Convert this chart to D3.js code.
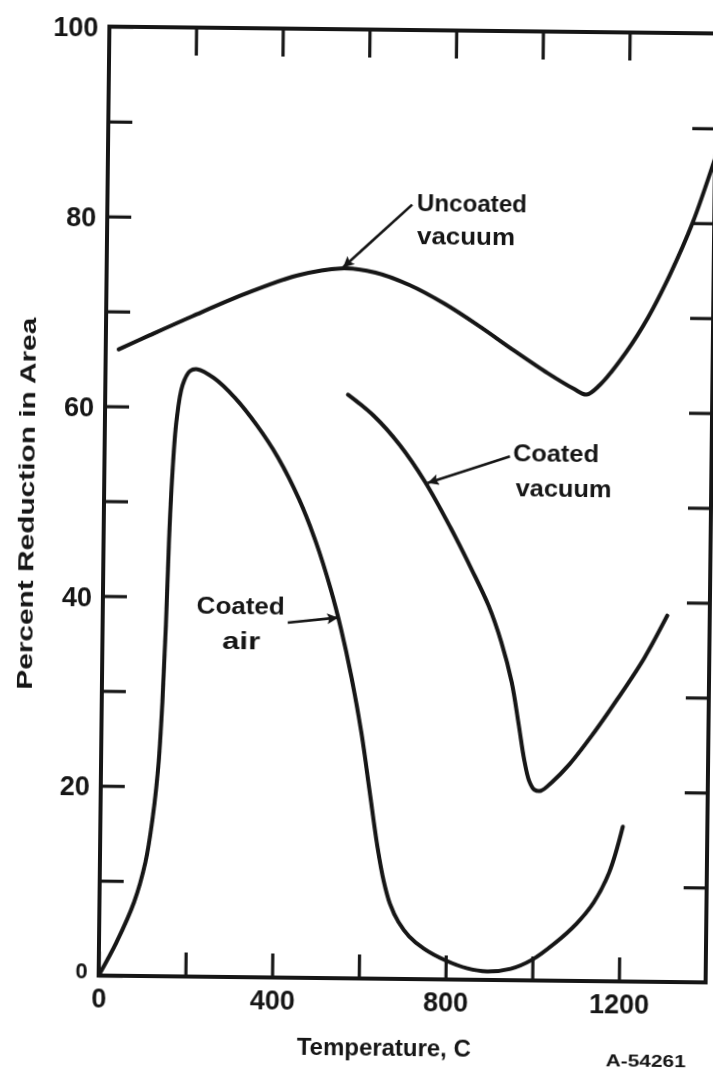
<!DOCTYPE html>
<html>
<head>
<meta charset="utf-8">
<script src="https://cdn.jsdelivr.net/npm/d3@7/dist/d3.min.js"></script>
<style>
  html, body { margin: 0; padding: 0; background: #fff; }
  svg { display: block; }
  text { font-family: "Liberation Sans", Arial, sans-serif; font-weight: bold; fill: #141414; }
</style>
</head>
<body>
<script>
// Temperature (C) and percent reduction in area for each test condition
const uncoatedVacuumT = [30, 100, 200, 320, 440, 540, 620, 700, 780, 860, 940, 1020, 1080, 1110, 1140, 1200, 1250, 1300, 1350, 1400];
const uncoatedVacuumV = [66, 67.5, 69.6, 72, 74, 74.8, 74.4, 73.1, 71.2, 68.9, 66.4, 64, 62.4, 61.8, 62.8, 66.3, 70, 74.6, 80, 86.8];

const coatedAirT = [0, 40, 80, 105, 120, 132, 140, 146, 151, 157, 165, 178, 195, 212, 250, 300, 350, 400, 450, 490, 525, 550, 575, 600, 620, 640, 655, 670, 690, 715, 750, 800, 850, 895, 950, 1000, 1050, 1100, 1140, 1175, 1205];
const coatedAirV = [0, 3.5, 7.8, 12, 16.5, 22, 29, 37, 46, 53, 58.5, 62.3, 63.8, 64, 63.1, 61.0, 58.2, 54.8, 50.4, 45.9, 41, 36.8, 31.8, 25.8, 19.8, 13.8, 10.3, 7.9, 6.0, 4.5, 3.2, 2.0, 1.2, 0.9, 1.2, 2.2, 3.9, 6.0, 8.3, 11.5, 16.3];

const coatedVacuumT = [560, 620, 680, 740, 800, 850, 890, 920, 945, 962, 976, 988, 1000, 1015, 1040, 1080, 1130, 1190, 1250, 1302];
const coatedVacuumV = [61.5, 59.3, 56.3, 52.4, 47.6, 43.2, 39.4, 35.6, 31.4, 27, 23.2, 21, 20.1, 20, 20.9, 22.8, 25.8, 29.8, 34.1, 38.6];

// Axis ticks and labels
const xDomain = [0, 1400];
const yDomain = [0, 100];
const xTickValues = [0, 200, 400, 600, 800, 1000, 1200];
const xLabelValues = [0, 400, 800, 1200];
const yTickValues = [0, 10, 20, 30, 40, 50, 60, 70, 80, 90, 100];
const yLabelValues = [0, 20, 40, 60, 80, 100];

const xTitle = "Temperature, C";
const yTitle = "Percent Reduction in Area";
const figureCode = "A-54261";

// Curve annotations: text lines with anchor points, and leader arrows (tail -> head) in data units
const noteLines = [
  { text: "Uncoated", t: 714, v: 80.9, len: 110, anchor: "start" },
  { text: "vacuum",   t: 715, v: 77.5, len: 98,  anchor: "start" },
  { text: "Coated",   t: 942, v: 54.7, len: 86,  anchor: "start" },
  { text: "vacuum",   t: 949, v: 51.0, len: 96,  anchor: "start" },
  { text: "Coated",   t: 318, v: 38.2, len: 88,  anchor: "middle" },
  { text: "air",      t: 320, v: 34.6, len: 38,  anchor: "middle" }
];
const noteArrows = [
  { t0: 703, v0: 81.6, t1: 545, v1: 74.9 },
  { t0: 935, v0: 55.2, t1: 746, v1: 52.3 },
  { t0: 427, v0: 37.4, t1: 543, v1: 38.0 }
];

const W = 713, H = 1075;
const margin = { left: 104, right: 2, top: 30, bottom: 96 };

const x = d3.scaleLinear().domain(xDomain).range([margin.left, W - margin.right]);
const y = d3.scaleLinear().domain(yDomain).range([H - margin.bottom, margin.top]);

const svg = d3.select("body").append("svg")
  .attr("width", W).attr("height", H);

const defs = svg.append("defs");
defs.append("filter").attr("id", "soft")
  .attr("x", "-5%").attr("y", "-5%").attr("width", "110%").attr("height", "110%")
  .append("feGaussianBlur").attr("stdDeviation", 0.6);
defs.append("marker")
  .attr("id", "head")
  .attr("viewBox", "0 0 10 10")
  .attr("refX", 10).attr("refY", 5)
  .attr("markerUnits", "userSpaceOnUse")
  .attr("markerWidth", 17).attr("markerHeight", 11)
  .attr("orient", "auto")
  .append("path").attr("d", "M0,0 L10,5 L0,10 L2,5 Z").attr("fill", "#141414");

svg.append("rect").attr("width", W).attr("height", H).attr("fill", "#fff");

// The whole sheet sits very slightly askew
const cx = (x.range()[0] + x.range()[1]) / 2;
const cy = (y.range()[0] + y.range()[1]) / 2;
const g = svg.append("g")
  .attr("filter", "url(#soft)")
  .attr("transform", `rotate(0.65, ${cx}, ${cy})`);

const ink = "#141414";
const labelSize = 27;

// Bottom axis with inward ticks
const axisB = g.append("g")
  .attr("transform", `translate(0,${y(0)})`)
  .call(d3.axisBottom(x)
    .tickValues(xTickValues)
    .tickSizeInner(-24).tickSizeOuter(0).tickPadding(13)
    .tickFormat(d => xLabelValues.includes(d) ? d : ""));

// Left axis with inward ticks
const axisL = g.append("g")
  .attr("transform", `translate(${x(0)},0)`)
  .call(d3.axisLeft(y)
    .tickValues(yTickValues)
    .tickSizeInner(-24).tickSizeOuter(0).tickPadding(11)
    .tickFormat(d => yLabelValues.includes(d) ? d : ""));

// Top and right axes: ticks only
const axisT = g.append("g")
  .attr("transform", `translate(0,${y(100)})`)
  .call(d3.axisTop(x)
    .tickValues(xTickValues.filter(d => d > 0))
    .tickSizeInner(-28).tickSizeOuter(0).tickFormat(""));
const axisR = g.append("g")
  .attr("transform", `translate(${x(1400)},0)`)
  .call(d3.axisRight(y)
    .tickValues(yTickValues.filter(d => d > 0 && d < 100))
    .tickSizeInner(-23).tickSizeOuter(0).tickFormat(""));

[axisB, axisL, axisT, axisR].forEach(a => {
  a.select(".domain").remove();
  a.selectAll(".tick line").attr("stroke", ink).attr("stroke-width", 3.2);
  a.selectAll(".tick text")
    .attr("fill", ink)
    .style("font-size", labelSize + "px")
    .style("font-family", '"Liberation Sans", Arial, sans-serif')
    .style("font-weight", "bold");
});
axisL.selectAll(".tick text").attr("dy", "0.36em");
axisL.selectAll(".tick text").filter(d => d === 0).style("font-size", "22px").attr("dy", "0.1em");

// Plot frame
g.append("rect")
  .attr("x", x(0)).attr("y", y(100))
  .attr("width", x(1400) - x(0)).attr("height", y(0) - y(100))
  .attr("fill", "none").attr("stroke", ink).attr("stroke-width", 4);

// Curves
const line = d3.line()
  .x(d => x(d[0])).y(d => y(d[1]))
  .curve(d3.curveCatmullRom.alpha(0.5));

const series = [
  [uncoatedVacuumT, uncoatedVacuumV],
  [coatedAirT, coatedAirV],
  [coatedVacuumT, coatedVacuumV]
];
g.selectAll("path.curve")
  .data(series.map(([ts, vs]) => ts.map((t, i) => [t, vs[i]])))
  .join("path")
  .attr("class", "curve")
  .attr("d", line)
  .attr("fill", "none")
  .attr("stroke", ink)
  .attr("stroke-width", 4)
  .attr("stroke-linejoin", "round")
  .attr("stroke-linecap", "round");

// Annotation leaders
g.selectAll("line.leader")
  .data(noteArrows)
  .join("line")
  .attr("class", "leader")
  .attr("x1", d => x(d.t0)).attr("y1", d => y(d.v0))
  .attr("x2", d => x(d.t1)).attr("y2", d => y(d.v1))
  .attr("stroke", ink).attr("stroke-width", 2.6)
  .attr("marker-end", "url(#head)");

// Annotation text
g.selectAll("text.note")
  .data(noteLines)
  .join("text")
  .attr("class", "note")
  .attr("x", d => x(d.t)).attr("y", d => y(d.v))
  .attr("text-anchor", d => d.anchor)
  .attr("textLength", d => d.len)
  .attr("lengthAdjust", "spacingAndGlyphs")
  .style("font-size", "24px")
  .text(d => d.text);

// Axis titles and figure code
g.append("text")
  .attr("x", 390).attr("y", 1056)
  .attr("text-anchor", "middle")
  .attr("textLength", 174).attr("lengthAdjust", "spacingAndGlyphs")
  .style("font-size", "24px")
  .text(xTitle);

g.append("text")
  .attr("transform", `translate(34, 508) rotate(-90)`)
  .attr("text-anchor", "middle")
  .attr("textLength", 372).attr("lengthAdjust", "spacingAndGlyphs")
  .style("font-size", "22px")
  .text(yTitle);

g.append("text")
  .attr("x", 652).attr("y", 1064)
  .attr("text-anchor", "middle")
  .attr("textLength", 80).attr("lengthAdjust", "spacingAndGlyphs")
  .style("font-size", "17px")
  .text(figureCode);
</script>
</body>
</html>
